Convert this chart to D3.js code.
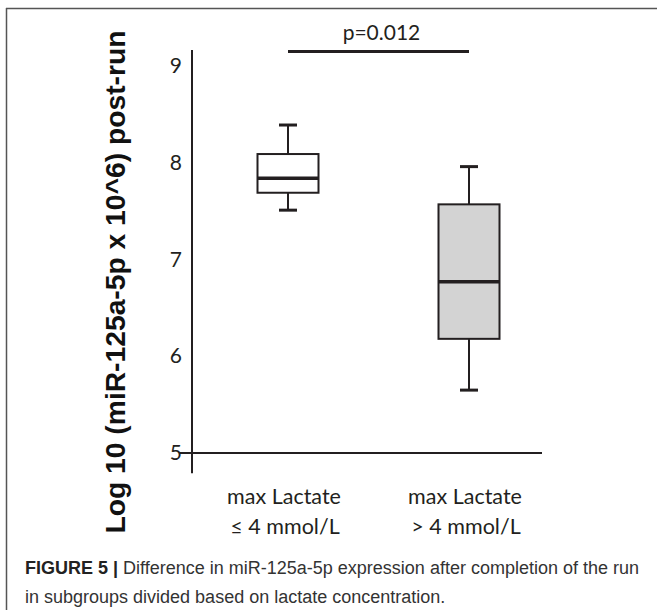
<!DOCTYPE html>
<html lang="en">
<head>
    <meta charset="UTF-8">
    <title>miR-125a-5p by lactate</title>
    <script src="https://cdn.jsdelivr.net/npm/d3@7"></script>
    <style>
        body { margin: 0; background: #fff; }
    </style>
</head>
<body>
<script>
    // data
    let groupLine1 = ["max Lactate", "max Lactate"]
    let groupLine2 = ["\u2264 4 mmol/L", "> 4 mmol/L"]
    let whiskerLow  = [7.51, 5.65]
    let q1          = [7.69, 6.18]
    let median      = [7.84, 6.77]
    let q3          = [8.09, 7.57]
    let whiskerHigh = [8.39, 7.96]
    let yTicks = [5, 6, 7, 8, 9]
    let pText = "p=0.012"
    let pLevel = 9.15

    let boxFill = ["#ffffff", "#d3d3d3"]
    let ink = "#231f20"
    let labelFont = 'Lato, "Open Sans", sans-serif'

    let svg = d3.select('body').append('svg')
        .attr('width', 657)
        .attr('height', 610)

    // frame (picture is cropped, only top & left edges show)
    svg.append('line').attr('x1', 6).attr('x2', 657).attr('y1', 8.5).attr('y2', 8.5)
        .attr('stroke', '#555').attr('stroke-width', 1.5)
    svg.append('line').attr('x1', 6.5).attr('x2', 6.5).attr('y1', 8).attr('y2', 610)
        .attr('stroke', '#555').attr('stroke-width', 1.5)

    let y = d3.scaleLinear().domain([5, 9]).range([453, 66])
    let idx = [0, 1]
    let x = d3.scalePoint().domain(idx).range([288, 469])
    let boxW = 61, capW = 18

    // y axis: labels only, line drawn by hand so it can overshoot
    let yAxis = svg.append('g')
        .attr('transform', 'translate(192,0)')
        .call(d3.axisLeft(y).tickValues(yTicks).tickFormat(d3.format('d')).tickSize(0).tickPadding(10))
    yAxis.select('.domain').remove()
    yAxis.selectAll('text')
        .style('font-family', labelFont)
        .style('font-size', '21px')
        .attr('fill', ink)

    svg.append('line')
        .attr('x1', 192).attr('x2', 192)
        .attr('y1', y(9.165)).attr('y2', y(4.79))
        .attr('stroke', ink).attr('stroke-width', 2)
    svg.append('line')
        .attr('x1', 179).attr('x2', 542)
        .attr('y1', y(5)).attr('y2', y(5))
        .attr('stroke', ink).attr('stroke-width', 2)

    // category labels
    let cats = svg.selectAll('.cat').data(idx).enter().append('text')
        .attr('class', 'cat')
        .attr('text-anchor', 'middle')
        .style('font-family', labelFont)
        .style('font-size', '21.5px')
        .attr('fill', ink)
    cats.append('tspan').attr('x', function (d) { return x(d) - 4 }).attr('y', 504)
        .text(function (d) { return groupLine1[d] })
    cats.append('tspan').attr('x', function (d) { return x(d) - 3 }).attr('y', 534)
        .text(function (d) { return groupLine2[d] })

    // whiskers
    let boxes = svg.selectAll('.box').data(idx).enter().append('g').attr('class', 'box')
    boxes.append('line')
        .attr('x1', function (d) { return x(d) }).attr('x2', function (d) { return x(d) })
        .attr('y1', function (d) { return y(whiskerLow[d]) })
        .attr('y2', function (d) { return y(whiskerHigh[d]) })
        .attr('stroke', ink).attr('stroke-width', 2)
    boxes.append('line')
        .attr('x1', function (d) { return x(d) - capW / 2 }).attr('x2', function (d) { return x(d) + capW / 2 })
        .attr('y1', function (d) { return y(whiskerHigh[d]) }).attr('y2', function (d) { return y(whiskerHigh[d]) })
        .attr('stroke', ink).attr('stroke-width', 3)
    boxes.append('line')
        .attr('x1', function (d) { return x(d) - capW / 2 }).attr('x2', function (d) { return x(d) + capW / 2 })
        .attr('y1', function (d) { return y(whiskerLow[d]) }).attr('y2', function (d) { return y(whiskerLow[d]) })
        .attr('stroke', ink).attr('stroke-width', 3)
    boxes.append('rect')
        .attr('x', function (d) { return x(d) - boxW / 2 })
        .attr('y', function (d) { return y(q3[d]) })
        .attr('width', boxW)
        .attr('height', function (d) { return y(q1[d]) - y(q3[d]) })
        .attr('fill', function (d) { return boxFill[d] })
        .attr('stroke', ink).attr('stroke-width', 2)
    boxes.append('line')
        .attr('x1', function (d) { return x(d) - boxW / 2 }).attr('x2', function (d) { return x(d) + boxW / 2 })
        .attr('y1', function (d) { return y(median[d]) }).attr('y2', function (d) { return y(median[d]) })
        .attr('stroke', ink).attr('stroke-width', 3.5)

    // significance bar
    svg.append('line')
        .attr('x1', x(0)).attr('x2', x(1))
        .attr('y1', y(pLevel)).attr('y2', y(pLevel))
        .attr('stroke', ink).attr('stroke-width', 3)
    svg.append('text')
        .attr('x', (x(0) + x(1)) / 2 + 3).attr('y', 40)
        .attr('text-anchor', 'middle')
        .style('font-family', labelFont)
        .style('font-size', '21px')
        .attr('fill', ink)
        .text(pText)

    // y title
    svg.append('text')
        .attr('transform', 'translate(125,282) rotate(-90)')
        .attr('text-anchor', 'middle')
        .style('font-family', '"Liberation Sans", Arial, sans-serif')
        .style('font-weight', 'bold')
        .style('font-size', '27.5px')
        .attr('fill', '#111')
        .attr('textLength', 503)
        .attr('lengthAdjust', 'spacingAndGlyphs')
        .text('Log 10 (miR-125a-5p x 10^6) post-run')

    // caption
    let cap = svg.append('text')
        .style('font-family', '"Liberation Sans", Arial, sans-serif')
        .style('font-size', '18px')
        .attr('fill', '#333')
    let l1 = cap.append('tspan').attr('x', 25).attr('y', 574)
    l1.append('tspan').style('font-weight', 'bold').attr('fill', '#222').text('FIGURE 5 | ')
    l1.append('tspan').text('Difference in miR-125a-5p expression after completion of the run')
    cap.append('tspan').attr('x', 25).attr('y', 603)
        .text('in subgroups divided based on lactate concentration.')
</script>
</body>
</html>
